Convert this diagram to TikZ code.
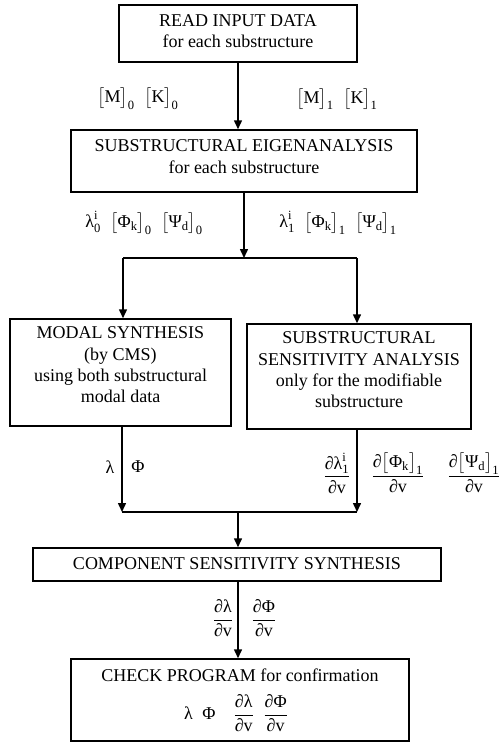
\documentclass[tikz,border=0pt]{standalone}
\usepackage{amsmath}
\usepackage{fontspec}
\setmainfont{Liberation Serif}
\usetikzlibrary{arrows.meta}
\newcommand\boxfont{\fontsize{18}{21.3}\selectfont}
\newcommand\tx[1]{\text{#1}}
\newcommand\bk[1]{\bigl[#1\bigr]}
\begin{document}
\begin{tikzpicture}[x=1pt,y=-1pt,
  box/.style={draw, line width=1.5pt, rectangle, inner sep=0pt},
  txt/.style={align=center, font=\boxfont, inner sep=0pt},
  lab/.style={font=\boxfont, inner sep=0pt},
  conn/.style={line width=1.5pt},
  arr/.style={line width=1.5pt, -{Triangle[length=9pt,width=8pt]}}]
\path[use as bounding box, fill=white] (0,0) rectangle (502,744);

% boxes
\node[box, minimum width=238, minimum height=57] (b1) at (238,33.5) {};
\node[box, minimum width=346, minimum height=62] (b2) at (244,161) {};
\node[box, minimum width=221, minimum height=107] (modal) at (120.5,372.5) {};
\node[box, minimum width=224, minimum height=105] (sens) at (359,376.5) {};
\node[box, minimum width=408, minimum height=33] (comp) at (237,564.5) {};
\node[box, minimum width=338, minimum height=82] (check) at (240,700) {};

% box texts
\node[txt] (t1) at (238,31) {READ INPUT DATA\\for each substructure};
\node[txt] (t2) at (244,156.5) {SUBSTRUCTURAL EIGENANALYSIS\\for each substructure};
\node[txt] (tm) at (120.5,365) {MODAL SYNTHESIS\\(by CMS)\\using both substructural\\modal data};
\node[txt] (ts) at (359,370) {SUBSTRUCTURAL\\SENSITIVITY ANALYSIS\\only for the modifiable\\substructure};
\node[txt] (tc) at (237,564) {COMPONENT SENSITIVITY SYNTHESIS};
\node[txt] (tk1) at (240,675) {CHECK PROGRAM for confirmation};
\node[lab] (tk2) at (236,713) {$\tx{λ}\;\;\tx{Φ}\quad\dfrac{\tx{∂λ}}{\tx{∂v}}\;\;\dfrac{\tx{∂Φ}}{\tx{∂v}}$};

% junction coordinates
\coordinate (sM) at (244,258);
\coordinate (sL) at (123,258);
\coordinate (sR) at (357,258);
\coordinate (mL) at (122,512);
\coordinate (mR) at (357,512);
\coordinate (mM) at (238,512);

% connectors
\draw[arr] (b1.south) -- (b2.north -| b1.south);
\draw[arr] (b2.south -| sM) -- (sM);
\draw[conn] (sL) -- (sR);
\draw[arr] (sL) -- (modal.north -| sL);
\draw[arr] (sR) -- (sens.north -| sR);
\draw[arr] (modal.south -| mL) -- (mL);
\draw[arr] (sens.south -| mR) -- (mR);
\draw[conn] (mL) -- (mR);
\draw[arr] (mM) -- (comp.north -| mM);
\draw[arr] (comp.south -| mM) -- (check.north -| mM);

% labels
\node[lab] (lMK0) at (138,99) {$\bk{\tx{M}}_{\tx{0}}\;\;\bk{\tx{K}}_{\tx{0}}$};
\node[lab] (lMK1) at (337,99) {$\bk{\tx{M}}_{\tx{1}}\;\;\bk{\tx{K}}_{\tx{1}}$};
\node[lab] (lE0) at (144,223) {$\tx{λ}^{\tx{i}}_{\tx{0}}\;\;\bk{\tx{Φ}_{\tx{k}}}_{\tx{0}}\;\;\bk{\tx{Ψ}_{\tx{d}}}_{\tx{0}}$};
\node[lab] (lE1) at (338,223) {$\tx{λ}^{\tx{i}}_{\tx{1}}\;\;\bk{\tx{Φ}_{\tx{k}}}_{\tx{1}}\;\;\bk{\tx{Ψ}_{\tx{d}}}_{\tx{1}}$};
\node[lab] (lLam) at (110,467) {λ};
\node[lab] (lPhi) at (138,467) {Φ};
\node[lab] (dL1) at (337,473) {$\dfrac{\tx{∂λ}^{\tx{i}}_{\tx{1}}}{\tx{∂v}}$};
\node[lab] (dP1) at (398,473) {$\dfrac{\tx{∂}\bk{\tx{Φ}_{\tx{k}}}_{\tx{1}}}{\tx{∂v}}$};
\node[lab] (dS1) at (474,473) {$\dfrac{\tx{∂}\bk{\tx{Ψ}_{\tx{d}}}_{\tx{1}}}{\tx{∂v}}$};
\node[lab] (dLam) at (223,618) {$\dfrac{\tx{∂λ}}{\tx{∂v}}$};
\node[lab] (dPhi) at (264,618) {$\dfrac{\tx{∂Φ}}{\tx{∂v}}$};
\end{tikzpicture}
\end{document}
